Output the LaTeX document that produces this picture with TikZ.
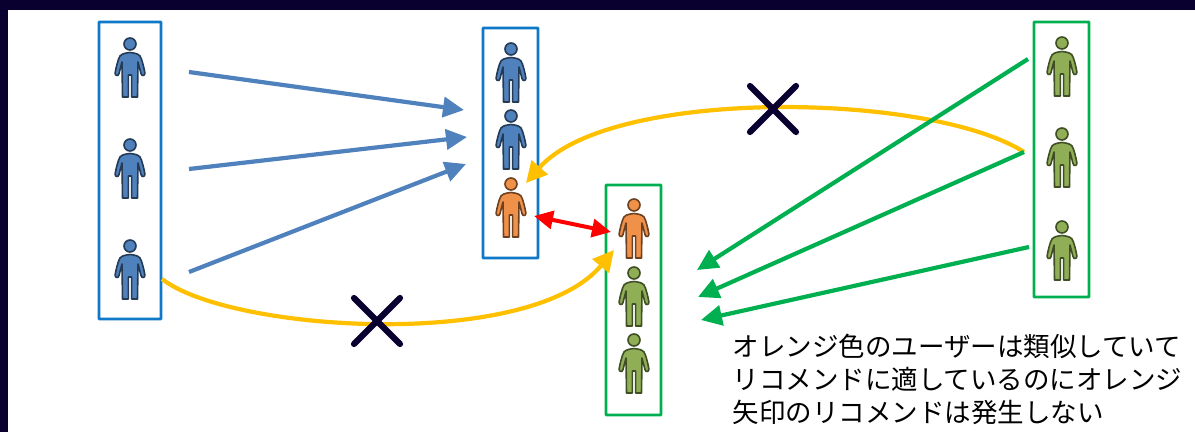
\documentclass[tikz,border=0pt]{standalone}
\usepackage{fontspec}
\newfontfamily\cjk{Noto Sans CJK JP}
\usetikzlibrary{arrows.meta}
\definecolor{frame}{HTML}{0A0030}
\definecolor{pblue}{HTML}{4F81BD}
\definecolor{porange}{HTML}{F0914A}
\definecolor{pgreen}{HTML}{8FAE55}
\definecolor{bluebox}{HTML}{0F78C8}
\definecolor{greenbox}{HTML}{00B050}
\definecolor{gold}{HTML}{FFC000}
\tikzset{
  userbox/.style={draw=#1,line width=2.8pt,rounded corners=0.6pt,fill=none,inner sep=0pt,minimum width=0pt},
  recblue/.style={draw=pblue,line width=4.2pt,-{Triangle[length=21pt,width=20pt]}},
  recgreen/.style={draw=greenbox,line width=4.2pt,-{Triangle[length=21pt,width=20pt]}},
  recgold/.style={draw=gold,line width=4.2pt,-{Triangle[length=21pt,width=21pt]}},
  similar/.style={draw=red,line width=4pt,{Triangle[length=19pt,width=18pt]}-{Triangle[length=19pt,width=18pt]}},
  crossmark/.style={draw=frame,line width=6.2pt,line cap=round},
  person/.pic={
    \path[draw=#1!45!black,fill=#1,line width=1.6pt,line join=round]
      (0,8.5) .. controls (4,9) and (8,9.5) .. (10,12)
      .. controls (12,15) and (14,24) .. (14.9,29)
      .. controls (15.2,32) and (11.5,32.5) .. (11,29.5)
      -- (8,18) -- (7.5,53) -- (1.6,53) -- (1.6,31) -- (-1.6,31) -- (-1.6,53) -- (-7.5,53) -- (-8,18) -- (-11,29.5)
      .. controls (-11.5,32.5) and (-15.2,32) .. (-14.9,29)
      .. controls (-14,24) and (-12,15) .. (-10,12)
      .. controls (-8,9.5) and (-4,9) .. (0,8.5) -- cycle;
    \path[draw=#1!45!black,fill=#1,line width=1.6pt] (0,0) circle (6);
  }
}
\begin{document}
\begin{tikzpicture}[x=1pt,y=-1pt]
\useasboundingbox (0,0) rectangle (1195,432);
\fill[white] (0,0) rectangle (1195,432);
\fill[frame] (0,0) rectangle (1195,10);
\fill[frame] (0,0) rectangle (8,432);

% user columns
\node[userbox=bluebox,minimum width=62pt,minimum height=297pt] (colA) at (130,170.5) {};
\node[userbox=bluebox,minimum width=55pt,minimum height=230pt] (colB) at (510.5,143) {};
\node[userbox=greenbox,minimum width=55pt,minimum height=230pt] (colC) at (633.5,300) {};
\node[userbox=greenbox,minimum width=55pt,minimum height=275pt] (colD) at (1061.5,159.5) {};

\pic at (130,44) {person=pblue};
\pic at (130,145) {person=pblue};
\pic at (130,246) {person=pblue};
\pic at (511,49) {person=pblue};
\pic at (511,116) {person=pblue};
\pic at (511,184) {person=porange};
\pic at (634,205) {person=porange};
\pic at (634,273) {person=pgreen};
\pic at (634,340) {person=pgreen};
\pic at (1062,43) {person=pgreen};
\pic at (1062,134) {person=pgreen};
\pic at (1062,227) {person=pgreen};

% connector ends
\coordinate (a1) at (189,72);
\coordinate (a2) at (189,169);
\coordinate (a3) at (189,272);
\coordinate (b1) at (464,110);
\coordinate (b2) at (467,137);
\coordinate (b3) at (466,164);
\coordinate (d1) at (1028,59);
\coordinate (d2) at (1024,152);
\coordinate (d3) at (1029,247);
\coordinate (c1) at (697,270);
\coordinate (c2) at (698,297);
\coordinate (c3) at (701,320);
\coordinate (o1) at (534,216);
\coordinate (o2) at (611,232);
\coordinate (y1) at (162,279);
\coordinate (y2) at (614,250);
\coordinate (y3) at (1024,152);
\coordinate (y4) at (526,183);

\draw[recblue] (a1) -- (b1);
\draw[recblue] (a2) -- (b2);
\draw[recblue] (a3) -- (b3);

\draw[recgold] (y1) .. controls (230,332) and (530,351) .. (y2);
\draw[recgold] (y3) .. controls (930,92) and (610,87) .. (y4);

\draw[recgreen] (d1) -- (c1);
\draw[recgreen] (d2) -- (c2);
\draw[recgreen] (d3) -- (c3);

\draw[similar] (o1) -- (o2);

\draw[crossmark] (354,298) -- (400,344);
\draw[crossmark] (400,298) -- (354,344);
\draw[crossmark] (750,86) -- (796,132);
\draw[crossmark] (796,86) -- (750,132);

\node[anchor=north west,inner sep=0pt,align=left,font={\cjk\fontsize{26.5}{32.5}\selectfont},text=black] (note) at (732.5,334)
 {オレンジ色のユーザーは類似していて\\[0.4pt]リコメンドに適しているのにオレンジ\\[0.4pt]矢印のリコメンドは発生しない};
\end{tikzpicture}
\end{document}
